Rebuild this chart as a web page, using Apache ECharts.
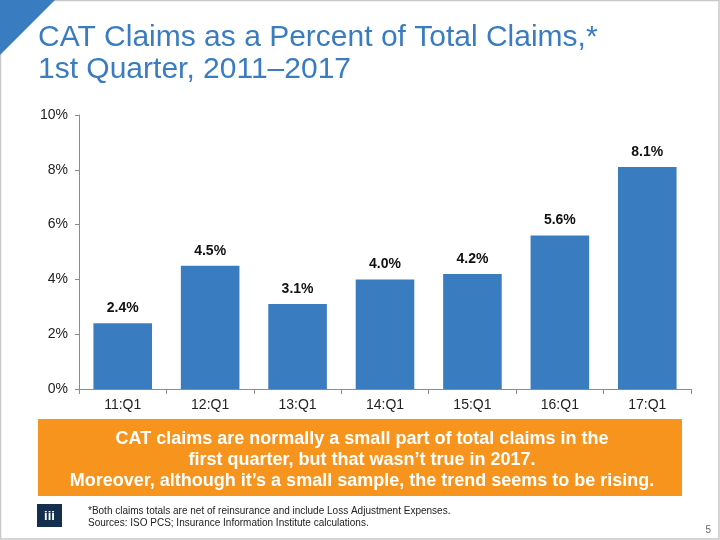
<!DOCTYPE html>
<html>
<head>
<meta charset="utf-8">
<script src="https://cdn.jsdelivr.net/npm/echarts@6/dist/echarts.min.js"></script>
<style>
html,body{margin:0;padding:0;background:#fff;}
#chart{width:720px;height:540px;}
</style>
</head>
<body>
<div id="chart"></div>
<script>
var categories = ['11:Q1','12:Q1','13:Q1','14:Q1','15:Q1','16:Q1','17:Q1'];
var catShare = [2.4, 4.5, 3.1, 4.0, 4.2, 5.6, 8.1];
var yTicks = [0, 2, 4, 6, 8, 10];
var titleLines = ['CAT Claims as a Percent of Total Claims,*', '1st Quarter, 2011\u20132017'];
var calloutLines = [
  'CAT claims are normally a small part of total claims in the',
  'first quarter, but that wasn\u2019t true in 2017.',
  'Moreover, although it\u2019s a small sample, the trend seems to be rising.'
];
var footLines = [
  '*Both claims totals are net of reinsurance and include Loss Adjustment Expenses.',
  'Sources: ISO PCS; Insurance Information Institute calculations.'
];
var pageNum = '5';

var font = 'Liberation Sans, Arial, sans-serif';
var blue = '#3A7CC0';
var chart = echarts.init(document.getElementById('chart'), null, {renderer:'canvas'});
chart.setOption({
  animation: false,
  backgroundColor: '#fff',
  textStyle: {fontFamily: font},
  grid: {left: 79, right: 29, top: 115, bottom: 151, containLabel: false},
  xAxis: {
    type: 'category',
    data: categories,
    axisLine: {show: true, lineStyle: {color: '#8c8c8c', width: 1}},
    axisTick: {show: true, length: 5, alignWithLabel: false, lineStyle: {color: '#8c8c8c'}},
    axisLabel: {color: '#222', fontSize: 14, margin: 9, fontFamily: font}
  },
  yAxis: {
    type: 'value',
    min: yTicks[0],
    max: yTicks[yTicks.length - 1],
    interval: 2,
    axisLine: {show: true, lineStyle: {color: '#8c8c8c', width: 1}},
    axisTick: {show: true, length: 4, lineStyle: {color: '#8c8c8c'}},
    splitLine: {show: false},
    axisLabel: {color: '#222', fontSize: 14, margin: 11, fontFamily: font,
      formatter: function (v) { return v + '%'; }}
  },
  series: [{
    type: 'bar',
    data: catShare,
    barCategoryGap: '33%',
    itemStyle: {color: blue},
    label: {
      show: true, position: 'top', distance: 8,
      color: '#111', fontSize: 14, fontWeight: 'bold', fontFamily: font,
      formatter: function (p) { return p.value.toFixed(1) + '%'; }
    }
  }],
  graphic: [
    {type: 'rect', shape: {x: 0.5, y: 0.5, width: 718.5, height: 538.5},
      style: {fill: 'none', stroke: '#c8c8c8', lineWidth: 1.5}, silent: true},
    {type: 'polygon', shape: {points: [[0,0],[55,0],[0,55]]}, style: {fill: blue}},
    {type: 'text', x: 38, y: 38, style: {text: titleLines[0], fill: blue, font: '30px ' + font, verticalAlign: 'middle'}},
    {type: 'text', x: 38, y: 70, style: {text: titleLines[1], fill: blue, font: '30px ' + font, verticalAlign: 'middle'}},
    {type: 'rect', shape: {x: 38, y: 419, width: 644, height: 77}, style: {fill: '#F7941E'}},
    {type: 'text', x: 362, y: 439, style: {text: calloutLines[0], fill: '#fff', font: 'bold 18px ' + font, align: 'center', verticalAlign: 'middle'}},
    {type: 'text', x: 362, y: 460, style: {text: calloutLines[1], fill: '#fff', font: 'bold 18px ' + font, align: 'center', verticalAlign: 'middle'}},
    {type: 'text', x: 362, y: 481, style: {text: calloutLines[2], fill: '#fff', font: 'bold 18px ' + font, align: 'center', verticalAlign: 'middle'}},
    {type: 'rect', shape: {x: 37, y: 504, width: 25, height: 23}, style: {fill: '#142f4e'}},
    {type: 'text', x: 49.5, y: 516, style: {text: 'iii', fill: '#fff', font: 'bold 13px ' + font, align: 'center', verticalAlign: 'middle'}},
    {type: 'text', x: 88, y: 511, style: {text: footLines[0], fill: '#222', font: '10px ' + font, verticalAlign: 'middle'}},
    {type: 'text', x: 88, y: 523, style: {text: footLines[1], fill: '#222', font: '10px ' + font, verticalAlign: 'middle'}},
    {type: 'text', x: 711, y: 530, style: {text: pageNum, fill: '#666', font: '10px ' + font, align: 'right', verticalAlign: 'middle'}}
  ]
});
</script>
</body>
</html>
